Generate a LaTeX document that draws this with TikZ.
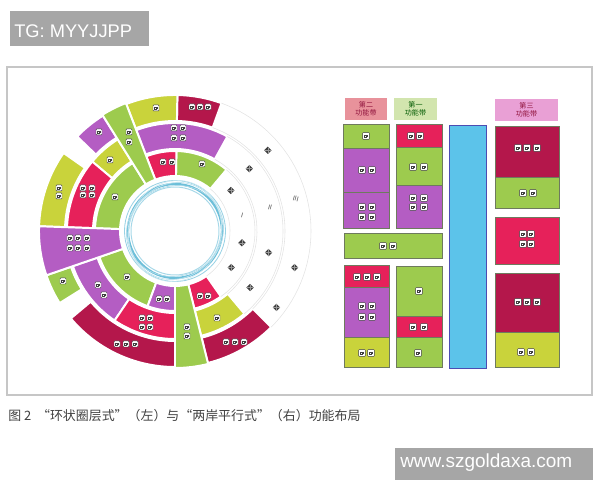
\documentclass[tikz,border=0pt]{standalone}
\usepackage{fontspec}
\newfontfamily\cjk{Noto Sans CJK SC}
\newfontfamily\arial{Liberation Sans}
\definecolor{ringyellow}{HTML}{C9D33B}
\definecolor{ringgreen}{HTML}{9DCB4E}
\definecolor{ringpurple}{HTML}{B45DC3}
\definecolor{ringred}{HTML}{E6215A}
\definecolor{ringcrimson}{HTML}{B4174B}
\definecolor{ringblue}{HTML}{6DBFD9}
\definecolor{riverblue}{HTML}{5CC3EA}
\definecolor{headpink}{HTML}{E8929B}
\definecolor{headgreen}{HTML}{D2E5AE}
\definecolor{headmagenta}{HTML}{E9A0D5}
\definecolor{boxedge}{HTML}{6E7A5E}
\definecolor{markgray}{HTML}{A6A6A6}
% one sector of a ring: colour, start angle, end angle, inner and outer radius
\newcommand{\annseg}[5]{%
  \filldraw[fill=#1,draw=white,line width=1.4pt] (#2:#4) arc[start angle=#2,end angle=#3,radius=#4]
    -- (#3:#5) arc[start angle=#3,end angle=#2,radius=#5] -- cycle;}
\begin{document}
\begin{tikzpicture}[x=0.025cm,y=0.025cm]
        % Styles
        \tikzstyle{icon}=[draw=black!75,fill=white,line width=0.35pt,rounded corners=0.5pt,minimum size=0.15cm,inner sep=0pt,
            path picture={\draw[black!75,line width=0.35pt,sharp corners] ([xshift=-1.1pt,yshift=-1pt]path picture bounding box.center) rectangle ([xshift=0.3pt,yshift=0.7pt]path picture bounding box.center)
              ([xshift=0.7pt,yshift=-1pt]path picture bounding box.center) -- ++(0,1.7pt);}]
        \tikzstyle{big icon}=[icon,minimum size=0.17cm]
        \tikzstyle{dark mark}=[fill=black!75,rotate=45,minimum size=0.13cm,inner sep=0pt,
            path picture={\draw[black!40,line width=0.25pt] (path picture bounding box.north) -- (path picture bounding box.south)
              (path picture bounding box.west) -- (path picture bounding box.east);}]
        \tikzstyle{roman}=[font=\arial\fontsize{5}{5}\selectfont,text=black!65,inner sep=0pt]
        \tikzstyle{band}=[draw=boxedge,line width=0.6pt]
        \tikzstyle{head}=[font=\cjk\fontsize{5}{6}\selectfont,align=center,inner sep=0pt,minimum height=0.55cm]
        \tikzstyle{faint}=[gray!22,line width=0.4pt]
        \useasboundingbox (0,0) rectangle (600,480);
        %The graphic
        %frame and watermarks
        \draw[gray!45,line width=1.3pt] (7,85) rectangle (592,413);
        \fill[markgray] (10,434) rectangle (149,469);
        \node[anchor=base west,inner sep=0pt,text=white,font=\arial\fontsize{13}{13}\selectfont] (tag) at (14,442.7) {TG: MYYJJPP};
        \fill[markgray] (395,0) rectangle (593,32);
        \node[anchor=base west,inner sep=0pt,text=white,font=\arial\fontsize{13.5}{13.5}\selectfont] (site) at (400,12) {www.szgoldaxa.com};
        \node[anchor=west,inner sep=0pt,text=black!75,font=\cjk\fontsize{9.2}{10}\selectfont] (caption) at (8,64)
            {图 2 \ “环状圈层式”（左）与“两岸平行式”（右）功能布局};
        %rings
        \begin{scope}[shift={(175,249)}]
            \foreach \c/\a/\b/\r/\R in {ringgreen/50/89/55/80, ringred/89/111/55/80, ringgreen/122/178/55/80,
                ringgreen/199/250/55/80, ringpurple/250/270/55/80, ringred/284/305/55/80,
                ringpurple/61/111/82/108, ringyellow/122/140/82/108, ringred/140/178/82/108,
                ringpurple/199/236/82/108, ringred/236/270/82/108, ringyellow/284/310/82/108,
                ringcrimson/70/89/110/136, ringyellow/89/111/110/136, ringpurple/122/136/110/136,
                ringyellow/145/178/110/136, ringgreen/199/212/110/136, ringcrimson/220/270/110/136,
                ringcrimson/284/315/110/136,
                ringgreen/111/122/55/137, ringpurple/178/199/55/136, ringgreen/270/284/55/137}
            \annseg{\c}{\a}{\b}{\r}{\R};
            % empty sectors on the right
            \foreach \a/\b/\r in {-55/50/55, -55/50/80, -50/61/82, -50/61/108, -45/70/110, -45/70/136}
            \draw[faint] (\a:\r) arc[start angle=\a,end angle=\b,radius=\r];
            \foreach \a/\r [count=\i] in {36/69, 40/97, 41/123, -10/68, -13/96, -17/125, -33/67, -37/94, -37/127}
            \node[dark mark] (dm-\i) at (\a:\r) {};
            \node[roman,rotate=-15] (ring I) at (13:69) {I};
            \node[roman,rotate=-15] (ring II) at (14:98) {II};
            \node[roman,rotate=-15] (ring III) at (15:125) {III};
            % water in the middle
            \draw[ringblue,line width=1.6pt] (0,0) circle[radius=47];
            \draw[ringblue!60,line width=0.7pt] (0,0) circle[radius=44];
            \draw[ringblue!70,line width=0.6pt] (0,0) circle[radius=50.5];
            \draw[ringblue!55,line width=0.5pt,rotate=20] (0,0) ellipse[x radius=49,y radius=45];
            \draw[ringblue!45,line width=0.5pt,rotate=-30] (0,0) ellipse[x radius=45.5,y radius=49.5];
            \draw[ringblue!35,line width=0.4pt,rotate=70] (0,0) ellipse[x radius=51,y radius=46.5];
        \end{scope}
        \foreach \x/\y [count=\i] in {156/372, 192/373, 200/373, 208/373, 174/352, 183/352, 174/342, 183/342,
            163/318, 172/318, 202/316, 129/348, 129/338, 99/348, 110/320,
            83/292, 92/292, 83/285, 92/285, 59/292, 59/284, 115/283,
            70/242, 78/242, 87/242, 70/232, 78/232, 87/232, 63/199, 98/195, 104/185, 127/203,
            159/181, 167/181, 142/162, 150/162, 142/153, 150/153, 117/136, 126/136, 135/136,
            187/153, 187/144, 200/184, 208/184, 217/162, 226/138, 235/138, 244/138}
        \node[icon] (ring icon \i) at (\x,\y) {};
        %bands
        \node[head,fill=headpink,text=ringcrimson!80!black,minimum width=1.05cm] (band two) at (366,371) {第二\\功能带};
        \node[head,fill=headgreen,text=green!35!black,minimum width=1.075cm] (band one) at (415.5,371) {第一\\功能带};
        \node[head,fill=headmagenta,text=ringcrimson!80!black,minimum width=1.575cm] (band three) at (526.5,370) {第三\\功能带};
        \foreach \c/\xa/\ya/\xb/\yb in {ringgreen/343/332/389/356, ringpurple/343/288/389/332, ringpurple/343/252/389/288,
            ringgreen/344/222/442/247,
            ringred/344/193/389/215, ringpurple/344/143/389/193, ringyellow/344/113/389/143,
            ringred/396/333/442/356, ringgreen/396/295/442/333, ringpurple/396/252/442/295,
            ringgreen/396/164/442/214, ringred/396/143/442/164, ringgreen/396/113/442/143,
            ringcrimson/495/303/559/354, ringgreen/495/272/559/303, ringred/495/216/559/263,
            ringcrimson/495/148/559/207, ringyellow/495/113/559/148}
        \draw[band,fill=\c] (\xa,\ya) rectangle (\xb,\yb);
        \draw[band,draw=gray!60!blue,fill=riverblue] (449,112) rectangle (486,355);
        \foreach \x/\y [count=\i] in {366/344, 362/310, 372/310, 362/273, 372/273, 362/263, 372/263,
            411/344, 420/344, 413/313, 424/313, 413/282, 424/282, 413/273, 424/273,
            383/234, 393/234, 357/203, 367/203, 377/203, 362/174, 372/174, 362/163, 372/163,
            362/127, 371/127, 419/189, 413/153, 424/153, 418/127,
            518/332, 527/332, 537/332, 523/287, 533/287, 523/246, 531/246, 523/236, 531/236,
            518/178, 527/178, 537/178, 521/128, 531/128}
        \node[big icon] (band icon \i) at (\x,\y) {};
\end{tikzpicture}
\end{document}
